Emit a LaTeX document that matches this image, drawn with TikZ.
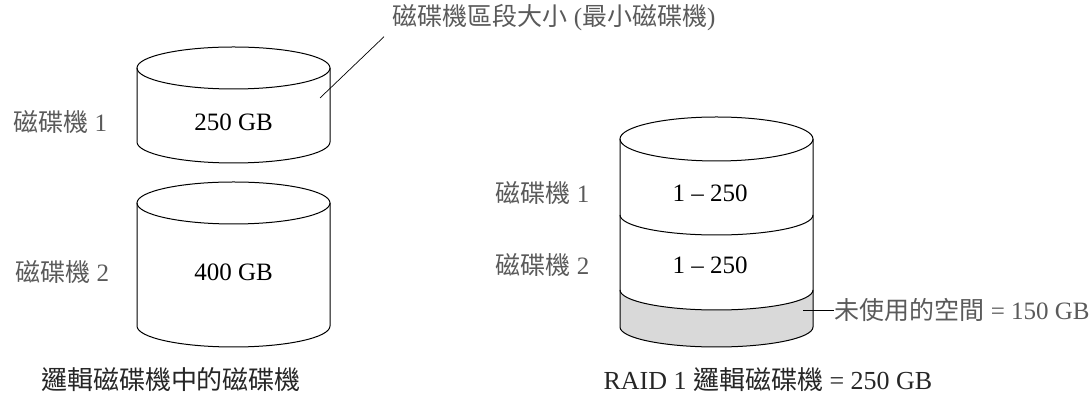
\documentclass[tikz,border=0pt]{standalone}
\usepackage{fontspec}
\setmainfont{Liberation Serif}
\newfontfamily\cjk{Noto Sans CJK TC}
\usetikzlibrary{positioning}
\definecolor{labelgray}{HTML}{5A5A5A}
\definecolor{unusedgray}{HTML}{D9D9D9}

\begin{document}
\begin{tikzpicture}[x=1pt,y=1pt,line width=1pt,
  lbl/.style={inner sep=0pt,text=labelgray,font=\fontsize{25}{27}\selectfont},
  val/.style={inner sep=0pt,font=\fontsize{25}{27}\selectfont},
  captxt/.style={inner sep=0pt,text=black!85,font=\fontsize{26}{28}\selectfont}]
\useasboundingbox (0,0) rectangle (1090,395);
% left: the two disks
\foreach \top/\bot in {327/253,192/69} {
  \draw (137,\top) -- (137,\bot) arc[start angle=180,end angle=360,x radius=96.5,y radius=21] -- (330,\top);
  \draw (233.5,\top) ellipse[x radius=96.5,y radius=21];
}
% right: RAID 1 volume
\fill[unusedgray] (620,105) arc[start angle=180,end angle=360,x radius=96.5,y radius=20]
  -- (813,68) arc[start angle=0,end angle=-180,x radius=96.5,y radius=20] -- cycle;
\draw (620,256) -- (620,68) arc[start angle=180,end angle=360,x radius=96.5,y radius=20] -- (813,256);
\draw (716.5,256) ellipse[x radius=96.5,y radius=22];
\foreach \y in {180,105}
  \draw (620,\y) arc[start angle=180,end angle=360,x radius=96.5,y radius=20];

\node[lbl,anchor=west] (d1) at (13,273) {{\cjk 磁碟機} 1};
\node[val] (s1) at (233.5,273) {250 GB};
\node[lbl,anchor=west] (d2) at (15,123) {{\cjk 磁碟機} 2};
\node[val] (s2) at (233.5,123) {400 GB};
\node[captxt] (capl) at (171,15) {\cjk 邏輯磁碟機中的磁碟機};
\node[lbl,anchor=west] (seg) at (392,377) {{\cjk 磁碟機區段大小} ({\cjk 最小磁碟機})};
\coordinate (segpt) at (320,297);
\draw[line width=.7pt] (segpt) -- ([shift={(-8,-5)}]seg.south west);

\node[lbl,anchor=west] (r1) at (495,202) {{\cjk 磁碟機} 1};
\node[val] (m1) at (710,202) {1 -- 250};
\node[lbl,anchor=west] (r2) at (495,130) {{\cjk 磁碟機} 2};
\node[val] (m2) at (710,130) {1 -- 250};
\node[lbl,anchor=west] (free) at (834,85) {{\cjk 未使用的空間} = 150 GB};
\coordinate (freept) at (803,85);
\draw[line width=.7pt] (freept) -- (free.west);
\node[captxt,anchor=west] (capr) at (603,15) {RAID 1 {\cjk 邏輯磁碟機} = 250 GB};
\end{tikzpicture}
\end{document}
